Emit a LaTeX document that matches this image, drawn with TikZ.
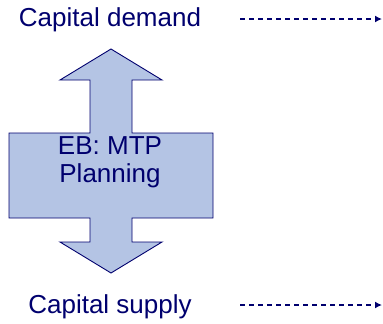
\documentclass[tikz,border=0pt]{standalone}
\usepackage{fontspec}
\setmainfont{Liberation Sans}
\usepackage{xcolor}
\usetikzlibrary{arrows.meta}
\definecolor{ebnavy}{RGB}{0,0,110}
\definecolor{ebfill}{RGB}{180,196,228}

\begin{document}
\begin{tikzpicture}[x=1pt,y=-1pt,
  title/.style={text=ebnavy,font=\fontsize{26}{28}\selectfont,inner sep=0pt,align=center},
  block/.style={draw=ebnavy,fill=ebfill,line width=0.9pt,line join=miter},
  flow/.style={-{Latex[length=7pt,width=7pt]},draw=ebnavy,line width=1.4pt,dash pattern=on 5pt off 4pt}]
\useasboundingbox (0,0) rectangle (383,324);
% double arrow through the planning box
\draw[block] (111,49)--(162,80)--(132,80)--(132,133)--(213,133)--(213,218)--(132,218)
  --(132,242)--(162,242)--(111,273)--(60,242)--(90,242)--(90,218)--(9,218)--(9,133)
  --(90,133)--(90,80)--(60,80)--cycle;
\node[title] (mtp) at (110,162) {EB: MTP\\Planning};
\node[title,anchor=base] (demand) at (110,26) {Capital demand};
\node[title,anchor=base] (supply) at (110,313) {Capital supply};
\coordinate (demand-from) at (240,19);
\coordinate (demand-to) at (382,19);
\coordinate (supply-from) at (240,305);
\coordinate (supply-to) at (382,305);
\draw[flow] (demand-from)--(demand-to);
\draw[flow] (supply-from)--(supply-to);
\end{tikzpicture}
\end{document}
